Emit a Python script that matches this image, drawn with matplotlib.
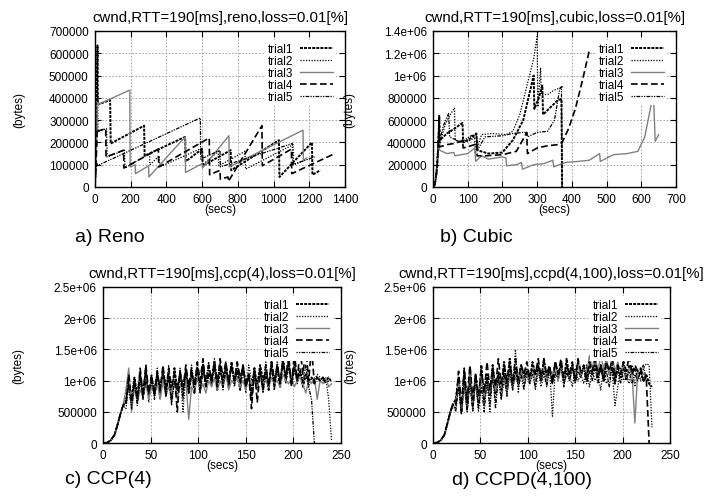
import numpy as np
import matplotlib
matplotlib.use("Agg")
import matplotlib.pyplot as plt
from matplotlib.ticker import FuncFormatter

plt.rcParams['font.family'] = ['Liberation Sans', 'DejaVu Sans']

# ---- reno (secs, kbytes) ----
reno1_t = [0, 8, 14, 16, 85, 88, 275, 278, 505, 508, 600, 603, 760, 763, 1030, 1033, 1215, 1218, 1262]
reno1_v = [0, 250, 635, 370, 390, 195, 275, 140, 225, 115, 170, 95, 165, 75, 210, 45, 200, 55, 75]
reno2_t = [0, 10, 15, 17, 65, 68, 165, 168, 305, 308, 360, 363, 600, 603, 690, 693, 840, 843, 1110, 1113, 1175]
reno2_v = [0, 300, 420, 250, 262, 135, 165, 85, 150, 100, 140, 90, 175, 100, 160, 95, 160, 80, 190, 100, 120]
reno3_t = [0, 10, 14, 17, 195, 197, 225, 227, 300, 302, 505, 507, 600, 602, 750, 752, 1165, 1167, 1185]
reno3_v = [0, 200, 380, 370, 435, 90, 100, 60, 95, 45, 225, 65, 105, 85, 230, 90, 255, 120, 130]
reno4_t = [0, 8, 12, 14, 60, 62, 160, 162, 355, 357, 640, 642, 700, 702, 745, 747, 935, 937, 1100, 1102, 1330]
reno4_v = [0, 150, 260, 250, 262, 135, 165, 85, 170, 90, 220, 55, 75, 35, 45, 25, 275, 95, 170, 60, 145]
reno5_t = [0, 6, 10, 12, 590, 592, 700, 702, 1105, 1107, 1230]
reno5_v = [0, 80, 110, 95, 310, 125, 165, 90, 195, 100, 135]

# ---- cubic ----
cub1_t = [0, 5, 10, 15, 18, 20, 40, 60, 85, 87, 110, 125, 128, 160, 200, 230, 260, 290, 292, 305, 315, 317, 340, 360, 370, 372]
cub1_v = [0, 20, 120, 350, 640, 420, 480, 520, 575, 400, 440, 480, 330, 300, 310, 420, 600, 1000, 700, 800, 910, 650, 720, 780, 790, 0]
cub2_t = [0, 6, 12, 17, 19, 35, 50, 62, 64, 90, 110, 120, 122, 140, 170, 210, 230, 250, 270, 290, 300, 302, 310, 312, 330, 350, 375]
cub2_v = [0, 30, 200, 550, 380, 560, 650, 710, 420, 400, 420, 450, 300, 470, 480, 470, 500, 650, 900, 1150, 1350, 720, 1070, 830, 830, 870, 900]
cub3_t = [0, 6, 12, 17, 19, 40, 60, 63, 100, 120, 123, 140, 160, 200, 210, 212, 240, 255, 258, 290, 320, 345, 348,
          380, 420, 450, 480, 482, 520, 560, 590, 610, 635, 640, 650]
cub3_v = [0, 20, 150, 450, 330, 300, 310, 280, 300, 350, 230, 280, 250, 270, 260, 190, 200, 220, 160, 200, 210, 240, 180,
          220, 230, 240, 300, 230, 290, 300, 320, 450, 840, 410, 470]
cub4_t = [0, 6, 12, 17, 19, 40, 60, 80, 85, 87, 120, 125, 127, 150, 200, 240, 260, 270, 272, 300, 330, 360, 372, 390, 410, 430, 450]
cub4_v = [0, 25, 180, 500, 360, 380, 390, 410, 420, 350, 380, 400, 280, 280, 290, 320, 430, 490, 300, 350, 370, 380, 400, 520, 700, 950, 1220]
cub5_t = [0, 6, 12, 17, 19, 30, 45, 48, 80, 110, 125, 128, 150, 200, 230, 260, 270, 272, 300, 330, 350, 365, 370, 372]
cub5_v = [0, 25, 180, 500, 400, 550, 660, 450, 400, 460, 470, 330, 450, 460, 480, 490, 490, 450, 490, 500, 600, 880, 900, 0]

# ---- ccp / ccpd : shared sample times ----
ccp_t = [0, 4, 8, 12, 15, 18, 21,
         24, 27, 30, 33, 36, 39, 42, 45, 48, 51,
         54, 57, 60, 63, 66, 69, 72, 75, 78, 81,
         84, 87, 90, 93, 96, 99, 102, 105, 108, 111,
         114, 117, 120, 123, 126, 129, 132, 135, 138, 141,
         144, 147, 150, 153, 156, 159, 162, 165, 168, 171,
         174, 177, 180, 183, 186, 189, 192, 195, 198, 201,
         204, 207, 210, 213, 216, 219, 222, 225, 228, 231,
         234, 237, 240]
ccp_start = [0, 5, 40, 130, 280, 450, 600]
ccpd_start = [0, 5, 40, 130, 300, 480, 620]

ccp1 = [650, 1000, 700, 1050, 750, 1100, 800, 1150, 750, 1000,
        850, 1100, 800, 1150, 900, 1050, 700, 1200, 850, 1100,
        900, 1150, 800, 1100, 950, 1200, 850, 1250, 900, 1100,
        1000, 1300, 850, 1200, 950, 1250, 900, 1300, 1000, 1150,
        850, 1250, 950, 1100, 800, 1200, 900, 1250, 1000, 1150,
        850, 1300, 950, 1200, 900, 1350, 1000, 1250, 950, 1200,
        1000, 1150, 900, 1100, 1000, 1050, 950, 1050, 1000, 1050,
        1000, 1050, 980]
ccp2 = [550, 900, 600, 950, 650, 1000, 700, 1250, 650, 1050,
        750, 1200, 700, 1100, 800, 1250, 650, 1150, 750, 1200,
        500, 1100, 800, 1250, 900, 1150, 800, 1300, 950, 1200,
        900, 1350, 1000, 1250, 850, 1300, 950, 1200, 1000, 1300,
        900, 1200, 800, 1250, 1000, 1150, 850, 1200, 950, 1300,
        900, 1250, 850, 1200, 1000, 1400, 950, 1300, 1000, 1250,
        950, 1150, 1000, 1100, 900, 1050, 1000, 1100, 1050, 1000,
        1050, 700, 50]
ccp3 = [850, 1200, 500, 900, 650, 850, 750, 950, 700, 900,
        800, 950, 700, 1000, 750, 900, 800, 1000, 700, 950,
        800, 1000, 380, 900, 800, 1050, 850, 950, 800, 1000,
        900, 1050, 850, 1000, 900, 1100, 850, 1000, 950, 1050,
        900, 1000, 850, 1050, 950, 1000, 900, 1100, 950, 1000,
        900, 1050, 950, 1000, 900, 1100, 1000, 950, 1050, 900,
        1000, 1050, 950, 800, 1000, 950, 1050, 700, 1000, 950,
        1050, 900, 950]
ccp4 = [600, 1100, 650, 1000, 700, 1200, 750, 1250, 800, 1100,
        750, 1150, 850, 1250, 800, 1200, 900, 1100, 500, 1150,
        850, 1250, 900, 1200, 800, 1300, 1000, 1350, 900, 1250,
        1000, 1300, 900, 1350, 1050, 1300, 950, 1250, 1000, 1300,
        1050, 1200, 900, 1100, 550, 1200, 650, 1150, 850, 1250,
        900, 1300, 1000, 1250, 950, 1300, 1050, 1400, 900, 1450,
        1000, 1500, 1100, 1520, 1000, 1530, 950, 1050, 1000, 1050,
        950, 1000]
ccp5 = [700, 900, 550, 1000, 600, 1050, 700, 1000, 800, 1100,
        700, 1050, 900, 1200, 750, 1100, 600, 1000, 850, 1150,
        700, 1200, 900, 1100, 950, 1250, 800, 1150, 1000, 1300,
        950, 1200, 1000, 1300, 900, 1150, 1050, 1250, 900, 1200,
        1000, 1250, 900, 1100, 700, 1050, 950, 1200, 800, 1100,
        1000, 1200, 850, 1300, 1000, 1250, 1100, 1350, 950, 1300,
        1050, 1200, 950, 1250, 900, 700, 0]

ccpd1 = [700, 1050, 500, 1150, 550, 1200, 600, 1100, 650, 1250,
         700, 1100, 750, 1250, 800, 1150, 850, 1300, 900, 1350,
         950, 1200, 1000, 1250, 1050, 1150, 1000, 1300, 1100, 1250,
         1000, 1350, 1050, 1200, 1000, 1300, 1100, 1250, 1000, 1350,
         1050, 1250, 1000, 1300, 1100, 1200, 1000, 1250, 1100, 1300,
         1050, 1250, 1000, 1300, 1100, 1200, 950, 1250, 1050, 1300,
         1000, 1250, 1100, 1200, 1050, 1150, 1000, 1100, 950, 900]
ccpd2 = [550, 1000, 450, 900, 500, 1100, 550, 1000, 500, 1050,
         600, 1000, 500, 1150, 650, 1100, 700, 1000, 800, 1100,
         850, 1500, 800, 1200, 900, 1100, 950, 1250, 850, 1150,
         900, 1100, 950, 1200, 430, 1150, 1000, 1250, 950, 1100,
         1100, 900, 1200, 1000, 1100, 950, 1250, 900, 1150, 1000,
         1100, 850, 1200, 950, 1050, 1150, 600, 900, 1200, 1000,
         1100, 950, 1250, 900, 1150, 1000, 1200, 1270, 1250, 250]
ccpd3 = [650, 1000, 550, 950, 600, 1100, 650, 1000, 700, 1050,
         750, 1000, 800, 1100, 850, 1000, 900, 1050, 800, 1100,
         900, 1050, 950, 1150, 1000, 1100, 950, 1200, 1000, 1150,
         1050, 1200, 1000, 1150, 1100, 1250, 1000, 1200, 1050, 1150,
         1000, 1200, 1100, 1250, 1050, 1200, 1100, 1400, 1200, 1400,
         1150, 1400, 1200, 1350, 1100, 1400, 1150, 1300, 1100, 1250,
         1050, 1200, 1100, 320, 1150, 1200, 1100]
ccpd4 = [600, 1150, 600, 1200, 650, 1250, 700, 1100, 750, 1150,
         800, 1300, 850, 1200, 900, 1350, 950, 1250, 1000, 1300,
         950, 1350, 1000, 1250, 1100, 1300, 1050, 1200, 1100, 1350,
         1050, 1300, 1100, 1250, 950, 1300, 1100, 1350, 1050, 1250,
         1100, 1300, 1000, 1350, 1150, 1250, 1050, 1300, 1150, 1350,
         1100, 1250, 1050, 1300, 1150, 1350, 1050, 1250, 1100, 1300,
         1150, 1400, 1100, 1250, 1150, 1200, 1000, 1050, 0]
ccpd5 = [500, 900, 480, 1000, 520, 950, 500, 1050, 550, 900,
         500, 1000, 600, 1100, 550, 1050, 700, 1150, 750, 1200,
         850, 1150, 900, 1100, 850, 1200, 950, 1100, 900, 1250,
         1000, 1150, 900, 1200, 950, 1100, 1050, 1250, 900, 1150,
         1000, 1200, 950, 1150, 1050, 1250, 950, 1150, 1000, 1200,
         950, 1200, 1000, 1150, 900, 1250, 1000, 1150, 950, 1200,
         1050, 1150, 950, 1100, 1000, 1150, 1250, 1000]

labels = ['trial1', 'trial2', 'trial3', 'trial4', 'trial5']
styles = [
    dict(color='black', lw=1.4, ls=(0, (1.5, 0.6))),
    dict(color='black', lw=0.9, ls=(0, (1, 1.2))),
    dict(color='#808080', lw=1.0, ls='-'),
    dict(color='black', lw=1.2, ls=(0, (4, 2))),
    dict(color='black', lw=0.9, ls=(0, (1, 1, 1, 1, 3, 1))),
]


def gfmt(v, pos):
    return '%g' % v


def setup(ax, title, xmax, xstep, ymax, ystep, ylab_x):
    ax.set_xlim(0, xmax)
    ax.set_ylim(0, ymax)
    ax.set_xticks(np.arange(0, xmax + 1, xstep))
    ax.set_yticks(np.arange(0, ymax + 1, ystep))
    ax.yaxis.set_major_formatter(FuncFormatter(gfmt))
    ax.tick_params(direction='in', top=True, right=True, labelsize=8.5, length=4, width=0.8, pad=4.5)
    ax.grid(True, color='#999999', lw=0.6, ls=(0, (2, 2)))
    ax.set_axisbelow(True)
    for s in ax.spines.values():
        s.set_linewidth(1.0)
    ax.set_title(title, fontsize=10.8, pad=7)
    ax.set_xlabel('(secs)', fontsize=8.5)
    ax.set_ylabel('(bytes)', fontsize=8.5)
    ax.xaxis.set_label_coords(0.5, -0.105)
    ax.yaxis.set_label_coords(ylab_x, 0.5)
    leg = ax.legend(loc='upper right', fontsize=8.5, markerfirst=False, handlelength=2.8,
                    handletextpad=0.6, labelspacing=0.0, borderpad=0.2, borderaxespad=0.8,
                    frameon=True, fancybox=False)
    leg.get_frame().set_edgecolor('none')
    leg.get_frame().set_facecolor('white')
    leg.get_frame().set_alpha(1)


fig = plt.figure(figsize=(7.19, 5.02), dpi=100)
ax_a = fig.add_axes([0.1321, 0.6255, 0.3477, 0.3108])
ax_b = fig.add_axes([0.6022, 0.6255, 0.3380, 0.3108])
ax_c = fig.add_axes([0.1433, 0.1155, 0.3310, 0.3108])
ax_d = fig.add_axes([0.6022, 0.1155, 0.3296, 0.3108])

reno = [(reno1_t, reno1_v), (reno2_t, reno2_v), (reno3_t, reno3_v), (reno4_t, reno4_v), (reno5_t, reno5_v)]
for (t, v), lab, st in zip(reno, labels, styles):
    ax_a.plot(t, np.array(v) * 1000, label=lab, **st)
setup(ax_a, 'cwnd,RTT=190[ms],reno,loss=0.01[%]', 1400, 200, 700000, 100000, -0.28)

cubic = [(cub1_t, cub1_v), (cub2_t, cub2_v), (cub3_t, cub3_v), (cub4_t, cub4_v), (cub5_t, cub5_v)]
for (t, v), lab, st in zip(cubic, labels, styles):
    ax_b.plot(t, np.array(v) * 1000, label=lab, **st)
setup(ax_b, 'cwnd,RTT=190[ms],cubic,loss=0.01[%]', 700, 100, 1400000, 200000, -0.32)

for v, lab, st in zip([ccp1, ccp2, ccp3, ccp4, ccp5], labels, styles):
    y = np.array(ccp_start + v) * 1000
    ax_c.plot(ccp_t[:len(y)], y, label=lab, **st)
setup(ax_c, 'cwnd,RTT=190[ms],ccp(4),loss=0.01[%]', 250, 50, 2500000, 500000, -0.33)

for v, lab, st in zip([ccpd1, ccpd2, ccpd3, ccpd4, ccpd5], labels, styles):
    y = np.array(ccpd_start + v) * 1000
    ax_d.plot(ccp_t[:len(y)], y, label=lab, **st)
setup(ax_d, 'cwnd,RTT=190[ms],ccpd(4,100),loss=0.01[%]', 250, 50, 2500000, 500000, -0.325)

fig.text(75 / 719, 1 - 242 / 502, 'a) Reno', fontsize=14, va='baseline')
fig.text(440 / 719, 1 - 242 / 502, 'b) Cubic', fontsize=14, va='baseline')
fig.text(65 / 719, 1 - 484 / 502, 'c) CCP(4)', fontsize=14, va='baseline')
fig.text(452 / 719, 1 - 485 / 502, 'd) CCPD(4,100)', fontsize=14, va='baseline')

fig.savefig('out.png', dpi=100)
